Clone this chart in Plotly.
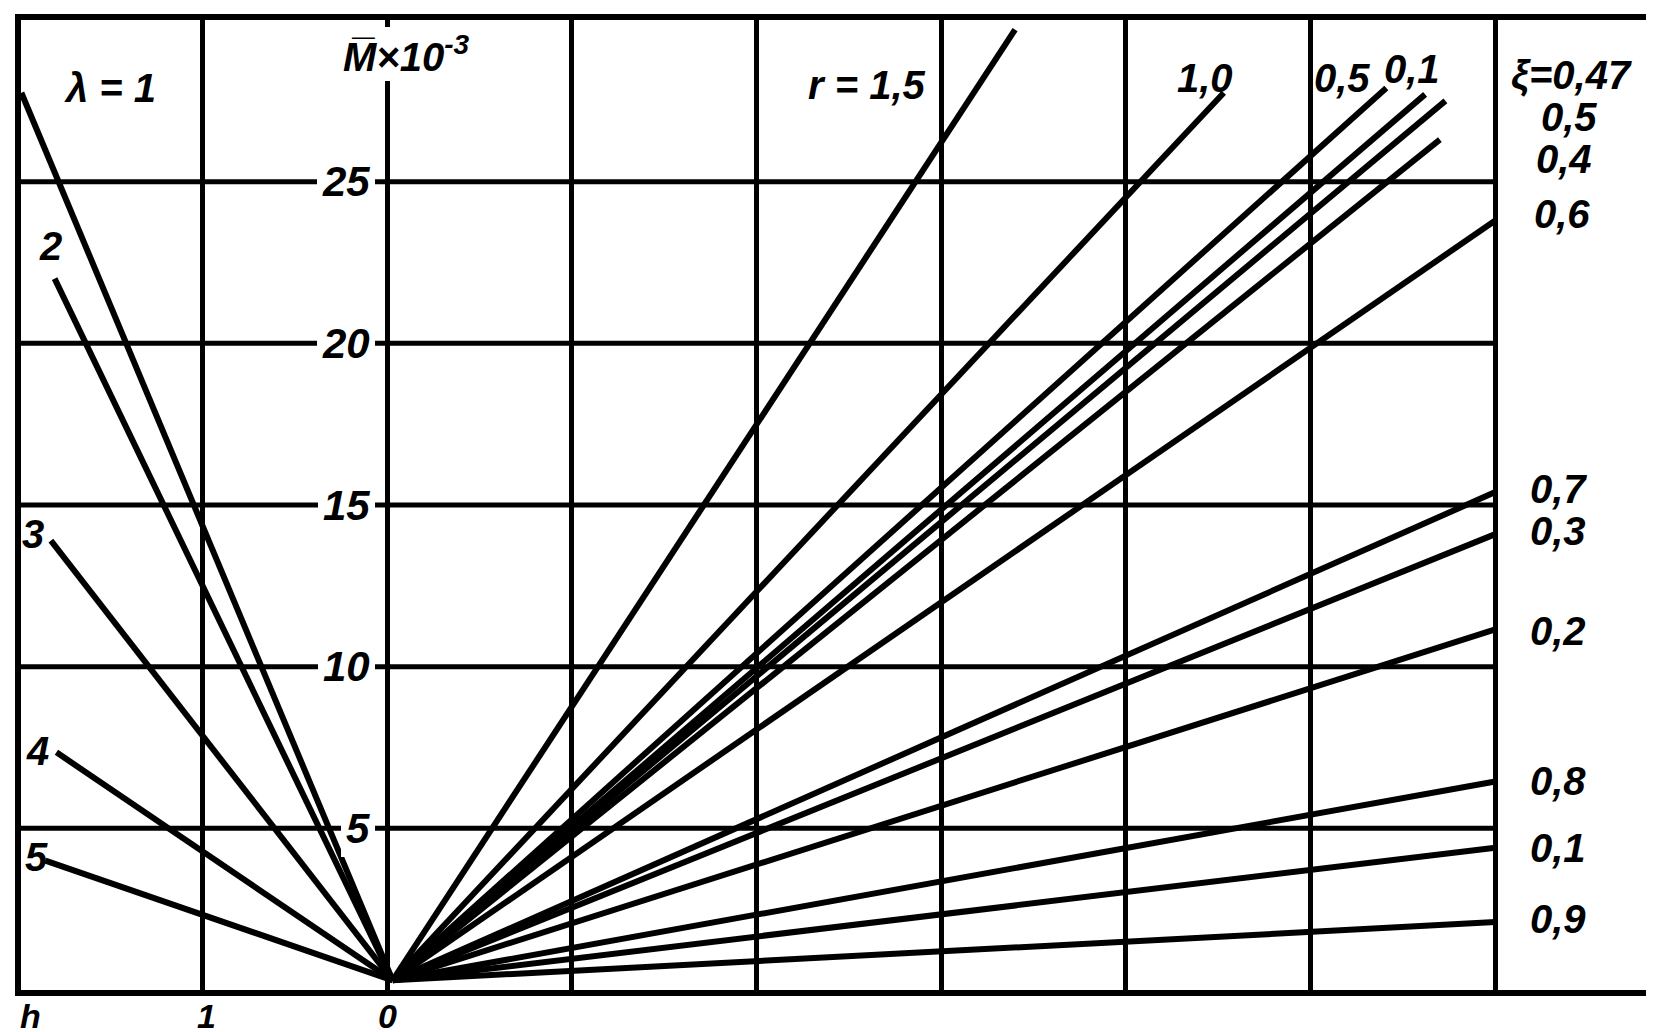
import plotly.graph_objects as go

# ---------------- data ----------------
pole_x, pole_M = 0.03, 0.3          # common point of all rays

# left family: lambda lines, end points (h on the left, M)
lam_labels = ["λ = 1", "2", "3", "4", "5"]
lam_end_h = [-1.98, -1.80, -1.82, -1.79, -1.85]
lam_end_M = [27.75, 22.0, 13.9, 7.35, 4.0]

# upper right family: r lines
r_labels = ["r = 1,5", "1,0", "0,5", "0,1"]
r_end_x = [3.40, 4.53, 5.41, 5.62]
r_end_M = [29.7, 27.75, 27.9, 27.7]

# right family: xi lines
xi_labels = ["0,5", "0,4", "0,6", "0,7", "0,3", "0,2", "0,8", "0,1", "0,9"]
xi_end_x = [5.73, 5.70, 6.0, 6.0, 6.0, 6.0, 6.0, 6.0, 6.0]
xi_end_M = [27.5, 26.3, 23.8, 15.4, 14.1, 11.15, 6.45, 4.4, 2.1]
xi_head = "ξ=0,47"

M_ticks = [5, 10, 15, 20, 25]
h_ticks = ["h", "1", "0"]
h_tick_vals = [-1.93, -0.98, 0.0]

# ---------------- layout / style ----------------
X_RANGE = [-1.982, 6.816]
Y_RANGE = [0, 30]
LW_DATA = 6
LW_GRID = 5
FONT = "Liberation Sans Narrow, Liberation Sans, Arial, sans-serif"

def tfont(size=42):
    return dict(family=FONT, size=size, color="black", weight="bold", style="italic")

fig = go.Figure()

for xs, ys in [(lam_end_h, lam_end_M), (r_end_x, r_end_M), (xi_end_x, xi_end_M)]:
    for ex, ey in zip(xs, ys):
        fig.add_trace(go.Scatter(x=[pole_x, ex], y=[pole_M, ey], mode="lines",
                                 line=dict(color="black", width=LW_DATA),
                                 hoverinfo="skip", showlegend=False))

# horizontal grid lines (stop at x = 6)
for v in M_ticks:
    fig.add_shape(type="line", xref="x", yref="y", x0=X_RANGE[0], x1=6, y0=v, y1=v,
                  line=dict(color="black", width=LW_GRID), layer="below")

annotations = []
# M tick labels beside the axis
for v in M_ticks:
    annotations.append(dict(x=-0.065, y=v, xref="x", yref="y", text=str(v), showarrow=False,
                            xanchor="right", yanchor="middle", font=tfont(42),
                            bgcolor="white", borderpad=5, borderwidth=0))
# axis title on the M axis
annotations.append(dict(x=0.1, y=28.95, xref="x", yref="y", text="M\u0305×10<sup>-3</sup>",
                        showarrow=False, xanchor="center", yanchor="middle", font=tfont(40),
                        bgcolor="white", borderpad=2, borderwidth=0))
# bottom h labels (below the frame, so paper-referenced in y)
for t, hv in zip(h_ticks, h_tick_vals):
    annotations.append(dict(x=hv, y=-0.027, xref="x", yref="paper", text=t, showarrow=False,
                            xanchor="center", yanchor="middle", font=tfont(34),
                            borderpad=0, borderwidth=0))

lam_pos = {"λ = 1": (-1.5, 27.9), "2": (-1.82, 23.0), "3": (-1.915, 14.1),
           "4": (-1.89, 7.4), "5": (-1.9, 4.1)}
for t in lam_labels:
    px, py = lam_pos[t]
    annotations.append(dict(x=px, y=py, xref="x", yref="y", text=t, showarrow=False,
                            xanchor="center", yanchor="middle", font=tfont(40)))

r_pos = {"r = 1,5": (2.6, 28.0), "1,0": (4.43, 28.2), "0,5": (5.17, 28.2), "0,1": (5.55, 28.5)}
for t in r_labels:
    px, py = r_pos[t]
    annotations.append(dict(x=px, y=py, xref="x", yref="y", text=t, showarrow=False,
                            xanchor="center", yanchor="middle", font=tfont(40)))

annotations.append(dict(x=6.41, y=28.3, xref="x", yref="y", text=xi_head, showarrow=False,
                        xanchor="center", yanchor="middle", font=tfont(40)))
xi_pos = {"0,5": (6.40, 27.0), "0,4": (6.37, 25.7), "0,6": (6.36, 24.0),
          "0,7": (6.34, 15.5), "0,3": (6.34, 14.2), "0,2": (6.34, 11.1),
          "0,8": (6.34, 6.45), "0,1": (6.34, 4.4), "0,9": (6.34, 2.2)}
for t in xi_labels:
    px, py = xi_pos[t]
    annotations.append(dict(x=px, y=py, xref="x", yref="y", text=t, showarrow=False,
                            xanchor="center", yanchor="middle", font=tfont(40)))

fig.update_layout(
    width=1654, height=1032,
    margin=dict(l=13, r=16, t=6, b=50),
    paper_bgcolor="white", plot_bgcolor="white",
    showlegend=False,
    annotations=annotations,
    xaxis=dict(range=X_RANGE, tickvals=[-1, 0, 1, 2, 3, 4, 5, 6], showticklabels=False,
               ticks="", showgrid=True, gridcolor="black", gridwidth=LW_GRID, zeroline=False,
               showline=True, linecolor="black", linewidth=6, mirror=True, fixedrange=True),
    yaxis=dict(range=Y_RANGE, showticklabels=False, ticks="", showgrid=False, zeroline=False,
               showline=True, linecolor="black", linewidth=6, mirror=True, fixedrange=True),
)

fig.write_html("out.html")
